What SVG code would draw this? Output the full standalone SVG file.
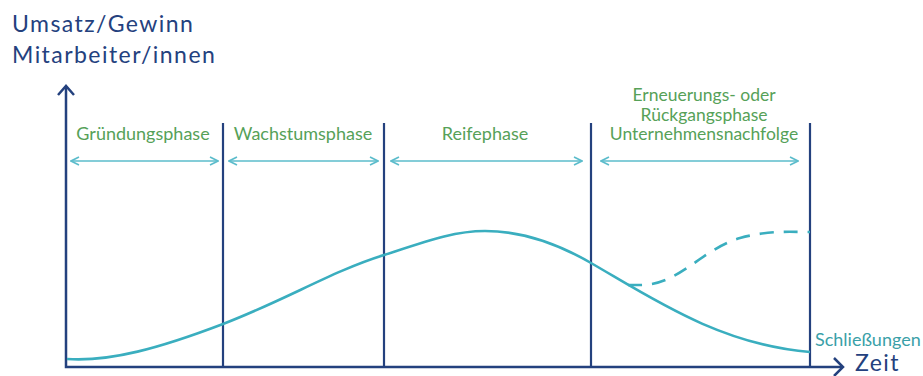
<svg xmlns="http://www.w3.org/2000/svg" width="923" height="376" viewBox="0 0 923 376">
<defs>
<style>
.axis{stroke:#24417e;stroke-width:2.5;fill:none}
.div{stroke:#24417e;stroke-width:2.2;fill:none}
.dbl{stroke:#5bbccb;stroke-width:1.6;fill:none}
.curve{stroke:#3aaebf;stroke-width:2.6;fill:none}
.title{font-family:Lato,"Liberation Sans",sans-serif;font-size:23px;letter-spacing:1.45px;fill:#24417e}
.phase{font-family:Lato,"Liberation Sans",sans-serif;font-size:18px;fill:#56a158;text-anchor:middle}
.phase2{font-size:17.5px}
.close{font-family:Lato,"Liberation Sans",sans-serif;font-size:18px;fill:#3a9fa8}
</style>
<marker id="ah" viewBox="0 0 10 10" refX="9" refY="5" markerWidth="10" markerHeight="10" markerUnits="userSpaceOnUse" orient="auto-start-reverse">
<path d="M1,1 L9,5 L1,9" fill="none" stroke="#5bbccb" stroke-width="1.6"/>
</marker>
</defs>
<rect width="923" height="376" fill="#ffffff"/>
<g id="axes">
<path class="axis" d="M66,86 L66,367 L843,367"/>
<path class="axis" d="M58,95 L66,86 L74,95"/>
<path class="axis" d="M834,358 L843,367 L834,376"/>
</g>
<g id="labels-axes">
<text class="title" x="12" y="32">Umsatz/Gewinn</text>
<text class="title" x="12" y="63">Mitarbeiter/innen</text>
<text class="title" x="855" y="371">Zeit</text>
</g>
<g id="dividers">
<line class="div" x1="223" y1="123" x2="223" y2="367"/>
<line class="div" x1="384" y1="123" x2="384" y2="367"/>
<line class="div" x1="591" y1="123" x2="591" y2="367"/>
<line class="div" x1="810" y1="123" x2="810" y2="367"/>
</g>
<g id="phase-gruendung">
<text class="phase" x="143" y="140">Gründungsphase</text>
<line class="dbl" x1="71" y1="161" x2="218" y2="161" marker-start="url(#ah)" marker-end="url(#ah)"/>
</g>
<g id="phase-wachstum">
<text class="phase" x="303" y="140">Wachstumsphase</text>
<line class="dbl" x1="229" y1="161" x2="378" y2="161" marker-start="url(#ah)" marker-end="url(#ah)"/>
</g>
<g id="phase-reife">
<text class="phase" x="485" y="140">Reifephase</text>
<line class="dbl" x1="391" y1="161" x2="582" y2="161" marker-start="url(#ah)" marker-end="url(#ah)"/>
</g>
<g id="phase-erneuerung">
<text class="phase phase2" x="704" y="101">Erneuerungs- oder</text>
<text class="phase phase2" x="704" y="120.5">Rückgangsphase</text>
<text class="phase phase2" x="704" y="140">Unternehmensnachfolge</text>
<line class="dbl" x1="601" y1="161" x2="798" y2="161" marker-start="url(#ah)" marker-end="url(#ah)"/>
</g>
<g id="connectors">
<path class="curve" d="M67,359 C110,362 160,348 223,324 C290,298 330,272 384,255 C430,240 455,231 485,231 C525,231 560,245 591,263 C650,297 720,345 810,352"/>
<path class="curve" stroke-dasharray="14,10" d="M628,285 L640,285 C680,285 700,250 740,238 C770,230 790,232 810,232"/>
</g>
<g id="closing">
<text class="close" x="815" y="346">Schließungen</text>
</g>
</svg>
